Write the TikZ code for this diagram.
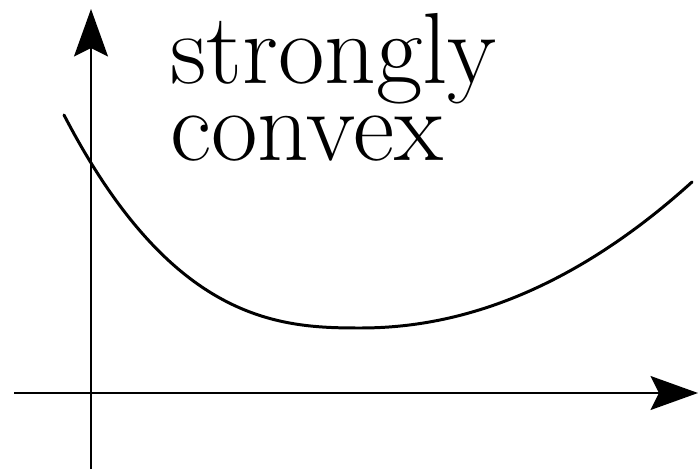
\documentclass[tikz,border=0pt]{standalone}
\usetikzlibrary{arrows.meta}
\begin{document}
\begin{tikzpicture}[
  axis/.style={line width=1.1pt, -{Stealth[length=0.95cm, width=0.68cm, inset=0.17cm]}},
  curveline/.style={line width=1.7pt, line cap=round},
  lbl/.style={inner sep=0pt, font=\fontsize{57.5}{43.8}\selectfont}
]
  \useasboundingbox (-1.82,-1.54) rectangle (12.14,7.86);
  % axes
  \coordinate (xstart) at (-1.54,0);
  \coordinate (xend) at (12.14,0);
  \coordinate (ystart) at (0,-1.52);
  \coordinate (yend) at (0,7.68);
  \draw[axis] (xstart) -- (xend);
  \draw[axis] (ystart) -- (yend);
  % the function
  \coordinate (fleft) at (-0.54,5.56);
  \coordinate (fmin) at (5.38,1.30);
  \coordinate (fright) at (12.02,4.22);
  \draw[curveline] (fleft) .. controls (1.62,1.40) and (3.78,1.30) .. (fmin)
    .. controls (6.78,1.30) and (9.17,1.64) .. (fright);
  % label
  \node[lbl, anchor=base west] (strongly) at (1.58,6.20) {strongly};
  \node[lbl, anchor=base west] (convex) at ([yshift=-1.54cm]strongly.base west) {convex};
\end{tikzpicture}
\end{document}
